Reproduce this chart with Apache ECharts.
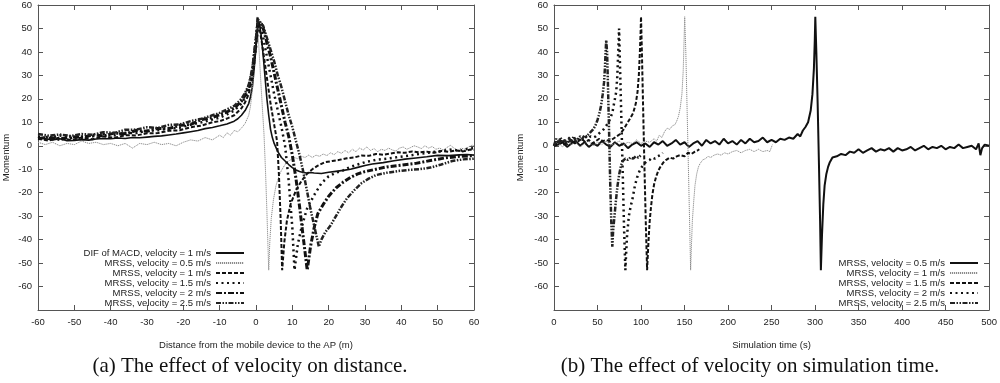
<!DOCTYPE html>
<html>
<head>
<meta charset="utf-8">
<script src="https://cdn.jsdelivr.net/npm/echarts/dist/echarts.min.js"></script>
<style>html,body{margin:0;padding:0;background:#fff}#c{width:1000px;height:383px}</style>
</head>
<body>
<div id="c"></div>
<script>
// ---------- data: panel (a) distance (m) vs momentum ----------
const distDif = [[-60,3.5],[-58,3],[-56,2.5],[-54,3],[-52,2.2],[-50,2.3],[-48,2.6],[-46,2.4],[-44,2.9],[-42,3.1],[-40,3],[-38,3.3],[-36,3.1],[-34,3.5],[-32,3.4],[-30,3.7],[-28,4],[-26,4.2],[-24,4.6],[-22,5],[-20,5.5],[-18,6],[-16,6.5],[-14,7.3],[-12,7.8],[-10,8.5],[-8,9.3],[-6,10.5],[-5,11.5],[-4,13],[-3,15],[-2,18],[-1.5,21],[-1,25],[-0.5,33],[0,42],[0.5,51],[0.9,53],[1.5,46],[2,38],[2.5,29],[3,20],[3.5,13],[4,7],[4.5,3.5],[5,1],[6,-2.5],[7,-5],[8,-6.5],[9,-8],[10,-9.3],[11,-10.3],[12,-11],[13,-11.4],[14,-11.6],[15,-11.4],[16,-11.6],[18,-11.8],[20,-11.3],[22,-10.9],[24,-10.5],[26,-10],[28,-9.2],[30,-8.4],[32,-7.8],[35,-7.2],[38,-6.4],[41,-5.7],[44,-5.2],[47,-4.7],[50,-4.1],[53,-4.2],[56,-3.9],[58,-3.7],[60,-4]];
const distV05 = [[-60,1.5],[-58,0.5],[-56,1.5],[-54,0],[-52,1],[-50,0.5],[-48,2],[-46,1],[-44,1.5],[-42,0.5],[-40,1],[-38,0],[-36,1],[-34,-1],[-32,1],[-30,0.5],[-28,1.5],[-26,0.5],[-24,1],[-22,0],[-20,1.5],[-18,2.5],[-16,2],[-14,3.5],[-12,2.5],[-10,4.5],[-9,3.5],[-8,5.5],[-7,4.5],[-6,6.5],[-5,6],[-4,7.5],[-3,9.5],[-2,13],[-1.5,17],[-1,24],[-0.5,35],[0,47],[0.3,55],[0.8,42],[1.3,28],[1.8,15],[2.2,5],[2.6,-10],[3,-28],[3.3,-43],[3.5,-53],[3.8,-41],[4.2,-31],[4.8,-23],[5.5,-17],[6.3,-13],[7,-10.5],[7.8,-8.5],[8.5,-7],[9.5,-6],[10.5,-5],[11.5,-5.5],[12.5,-4.5],[13.5,-5],[14.5,-4],[15.5,-5],[16.5,-4],[17.5,-4.5],[18.5,-3.5],[19.5,-4.2],[20.5,-3],[21.5,-3.8],[22.5,-2.5],[23.5,-3.2],[24.5,-2],[25.5,-3],[26.5,-1.5],[27.5,-2.5],[28.5,-1],[29.5,-1.8],[30.5,-0.5],[31.5,-2],[32.5,-1.2],[33.5,-2.5],[34.5,-1.5],[35.5,-2],[36.5,-1],[37.5,-1.8],[38.5,-2.2],[39.5,-1],[40.5,-0.5],[41.5,-1.5],[42.5,-0.8],[43.5,0],[44.5,-0.5],[45.5,-1.2],[46.5,0],[47.5,-1],[48.5,-0.3],[49.5,-1.5],[50.5,-1],[51.5,-1.8],[52.5,-0.8],[53.5,0.2],[54.5,-1],[55.5,-2],[56.5,-1],[57.5,-1.5],[58.5,-0.5],[59.5,0.3],[60,0]];
const distV1 = [[-60,3],[-57,2.2],[-54,3.6],[-51,2.4],[-48,3.5],[-45,2.8],[-42,4],[-39,3.4],[-36,4.5],[-33,4.4],[-30,5.3],[-27,5.4],[-24,6.4],[-21,6.6],[-18,7.9],[-15,8.6],[-12,10],[-10,10.5],[-8,11.6],[-6,13],[-4,16],[-3,18.5],[-2,22],[-1,29],[-0.5,35],[0,43],[0.4,55],[1,50],[1.5,45],[2,40],[3,29],[4,18],[5,9],[5.8,2],[6.3,-12],[6.8,-32],[7.2,-53],[7.8,-41],[8.5,-32],[9.5,-25],[11,-19],[12.5,-15],[14,-12],[15.5,-10],[17,-8.5],[19,-7],[21,-6.5],[23,-6],[25,-5.3],[27,-5],[29,-4.2],[31,-4.3],[33,-3.5],[35,-3.8],[37,-3.3],[39,-2.8],[41,-3],[43,-2.4],[45,-2.8],[47,-2.5],[49,-3],[51,-2.2],[53,-2.6],[55,-2],[57,-2.4],[59,-1.6],[60,-1.8]];
const distV15 = [[-60,4],[-57,3.2],[-54,4.4],[-51,3.3],[-48,4],[-45,4],[-42,5],[-39,4.5],[-36,5.5],[-33,5.4],[-30,6.4],[-27,6.6],[-24,7.4],[-21,7.7],[-18,9],[-15,10],[-12,11.2],[-10,12],[-8,13.4],[-6,15],[-4,18],[-3,20.5],[-2,24],[-1,30],[0,42],[0.5,50],[1,52],[2,46],[3,38],[4,30],[5,22],[6,15],[7,8],[8,0],[9,-15],[10,-35],[10.6,-53],[11.5,-42],[12.5,-35],[14,-27],[16,-21],[18,-16],[20,-13],[22,-11.5],[24,-10.5],[26,-9],[28,-8],[30,-7],[33,-6],[36,-5.5],[39,-4.8],[42,-4.2],[45,-3.5],[48,-2.8],[51,-2.3],[54,-1.5],[56,-2.2],[58,-1.4],[60,-1]];
const distV2 = [[-60,3],[-57,3.8],[-54,2.6],[-51,3.9],[-48,3.5],[-45,4.6],[-42,4.2],[-39,5.4],[-36,5.1],[-33,6.5],[-30,6.2],[-27,7.4],[-24,7.3],[-21,8.7],[-18,9.1],[-15,11.2],[-12,12],[-10,13.3],[-8,14.4],[-6,16],[-4,19],[-3,21.5],[-2,25],[-1,32],[0,45],[0.5,52],[1.5,52],[2,50],[3,44],[4,38],[5,31],[6,24],[7,17],[8,10],[9,4],[10,-4],[11,-14],[12,-26],[13,-39],[14.1,-53],[15,-43],[16,-35],[17,-29],[18.5,-25],[20,-21.5],[22,-18],[24,-15.5],[26,-13.5],[28,-12],[30,-11],[33,-10],[36,-9],[40,-8.3],[44,-7.5],[48,-6.3],[52,-5.2],[56,-4.5],[60,-4.2]];
const distV25 = [[-60,5],[-57,4.3],[-54,4.8],[-51,4.2],[-48,5],[-45,4.7],[-42,5.8],[-39,5.5],[-36,6.8],[-33,6.9],[-30,7.9],[-27,7.6],[-24,8.9],[-21,9.1],[-18,10.5],[-15,11.5],[-12,13],[-10,14],[-8,15.5],[-6,17],[-4,20],[-3,22.5],[-2,26],[-1,33],[0,46],[0.5,54],[1.5,52],[2,51],[3,46],[4,41],[5,36],[6,30],[7,25],[8,19],[9,13],[10,8],[11,2],[12,-4],[13,-11],[14,-19],[15,-27],[16,-34],[17.3,-43],[18,-40],[19,-37],[20.5,-34],[22,-30],[23.5,-26],[25,-22.5],[27,-19],[29,-16],[31,-14],[33,-12.5],[36,-11.5],[39,-10.8],[42,-10.3],[45,-10],[48,-9.3],[51,-8],[54,-6.5],[57,-5.8],[60,-5.5]];

// ---------- data: panel (b) simulation time (s) vs momentum ----------
const timeV05 = [[0,0],[5,0.5],[10,1.5],[15,-0.5],[20,1],[25,2],[30,0],[35,1.5],[40,-0.5],[45,1],[50,0],[55,2],[60,0.5],[65,-0.5],[70,1.5],[75,0],[80,1],[85,-1],[90,0.5],[95,1.5],[100,0],[105,1],[110,-0.5],[115,1.5],[120,0.5],[125,2],[130,0],[135,1],[140,2.5],[145,0.5],[150,1.5],[155,-0.5],[160,1],[165,2],[170,0],[175,2.5],[180,1],[185,2],[190,0.5],[195,3],[200,1],[205,2],[210,0.5],[215,2.5],[220,1],[225,3],[230,1.5],[235,2],[240,3.5],[245,1.5],[250,2.5],[255,1.5],[260,3],[265,2.5],[270,3.5],[275,3],[280,5],[283,4],[286,6.5],[289,8],[292,10],[295,15],[297,22],[298.7,33],[299.7,45],[300.3,55],[301.5,40],[303,18],[304.5,-8],[305.8,-32],[306.7,-53],[308,-38],[309.5,-25],[311,-17],[313,-12],[315,-9],[317,-7],[320,-5],[325,-4.5],[330,-3.5],[335,-4],[340,-2.5],[345,-3],[350,-1.5],[355,-3],[360,-2],[365,-1],[370,-2.5],[375,-1.5],[380,-2],[385,-1],[390,-2.5],[395,-1],[400,-2],[405,-1.5],[410,-0.5],[415,-2],[420,-1],[425,0],[430,-1.5],[435,-0.5],[440,-1],[445,0],[450,-1.5],[455,-0.5],[460,-1],[465,0.5],[470,-1],[475,-0.5],[480,0],[485,-1.5],[488,1],[490,-4],[492,-1],[495,0.5],[500,0]];
const timeV1 = [[0,0],[5,1],[10,-0.5],[15,2],[20,0.5],[25,1.5],[30,-0.5],[35,1],[40,2],[45,0],[50,1.5],[55,0.5],[60,2],[65,0],[70,1],[75,2],[80,0.5],[85,1.5],[90,1],[95,2.5],[100,1],[105,2],[110,1.5],[115,3],[118,2],[121,4.5],[124,3.5],[127,6],[130,7.5],[133,7],[136,8.5],[139,9],[141,10.5],[143,12.5],[145,16],[147,22],[148.5,32],[149.5,45],[150.2,55],[151.5,40],[153,15],[154.5,-10],[156,-35],[157,-53],[158,-42],[159,-32],[160.5,-24],[162,-17],[164,-12],[166,-9],[168,-7.5],[171,-6],[174,-5.5],[177,-4.5],[180,-5],[184,-4],[188,-3.5],[192,-4],[196,-3],[200,-3.5],[205,-2.5],[210,-2],[215,-3],[220,-2],[225,-1.5],[230,-2.5],[235,-1.5],[240,-2.5],[245,-2],[248,-2.5],[250,-0.5],[251,0.5]];
const timeV15 = [[0,0],[4,1],[8,2],[12,0.5],[16,1.5],[20,2.5],[24,1],[28,2],[32,3],[36,1.5],[40,2.5],[44,1],[48,2],[52,3],[56,2],[60,2.5],[64,2],[68,3],[72,4],[76,5],[80,7],[84,9.5],[88,12],[91,14],[94,18],[96,23],[97.5,30],[98.7,40],[99.5,48],[100,55],[101,40],[102.5,15],[104,-10],[105.5,-33],[107,-53],[108,-45],[109,-38],[110,-32],[111.5,-26],[113,-21],[115,-16.5],[117.5,-13],[120,-10.5],[123,-8.5],[126,-7],[129,-6],[133,-5],[137,-5.5],[141,-4.5],[145,-4],[150,-4.5],[154,-3],[158,-3.5],[162,-2.5],[165,-2],[167,-1.5]];
const timeV2 = [[0,0],[3,2],[6,1],[9,3],[12,0.5],[15,2],[18,3.5],[21,1.5],[24,3],[27,2],[30,3.5],[33,2.5],[36,4],[39,3],[42,4],[45,3.5],[48,4],[51,5],[54,6],[57,7],[60,8.5],[64,11],[67,14],[69.5,19],[71.5,23],[72.8,30],[73.8,40],[74.8,50],[76,32],[77.5,10],[79,-12],[80.5,-35],[82,-53],[83,-45],[84,-38],[86,-30],[88,-26],[90,-23],[93,-17],[95.5,-13.5],[98,-11],[101,-9],[104,-7.5],[107,-6.5],[110,-6],[113,-5],[116,-5.5],[119,-4.5],[122,-4],[125,-3]];
const timeV25 = [[0,0],[2.5,3],[5,1],[7.5,3.5],[10,1.5],[12.5,2.5],[15,0.5],[17.5,3],[20,1.5],[22.5,4],[25,2],[27.5,3],[30,4],[32.5,3],[35,4.5],[37.5,4],[40,5],[42.5,6],[45,7],[47.5,8.5],[50,11],[52,13.5],[54,17],[56,22],[57.5,27],[58.5,33],[59.3,40],[60,45],[61,40],[62,26],[63.3,6],[64.6,-16],[65.8,-32],[67,-43],[68,-36],[69.5,-30],[71,-24],[73,-17],[75,-12],[77,-8.5],[79,-6.5],[82,-5.5],[85,-6],[88,-5],[91,-5.5],[94,-4.5],[97,-5],[100,-4]];

// ---------- labels ----------
const namesLeft = ['DIF of MACD, velocity = 1 m/s','MRSS, velocity = 0.5 m/s','MRSS, velocity = 1 m/s','MRSS, velocity = 1.5 m/s','MRSS, velocity = 2 m/s','MRSS, velocity = 2.5 m/s'];
const namesRight = ['MRSS, velocity = 0.5 m/s','MRSS, velocity = 1 m/s','MRSS, velocity = 1.5 m/s','MRSS, velocity = 2 m/s','MRSS, velocity = 2.5 m/s'];
const xNameLeft = 'Distance from the mobile device to the AP (m)';
const xNameRight = 'Simulation time (s)';
const yName = 'Momentum';
const captionLeft = '(a) The effect of velocity on distance.';
const captionRight = '(b) The effect of velocity on simulation time.';

// ---------- styles ----------
const FONT = '"Liberation Sans", Arial, sans-serif';
const ST = {
  solid:   {color:'#111', width:1.6, type:'solid'},
  solidB:  {color:'#111', width:2, type:'solid'},
  gray:    {color:'#8c8c8c', width:1, type:[1.2,0.8]},
  dashed:  {color:'#111', width:2, type:[4,2]},
  sparse:  {color:'#111', width:2.5, type:[2,3.5]},
  dashdot: {color:'#111', width:3, type:[6,2,2,2]},
  dashdd:  {color:'#222', width:2.5, type:[5,1.5,1.5,1.5,1.5,1.5]}
};

function line(name, data, idx, st) {
  return {type:'line', name:name, data:data, xAxisIndex:idx, yAxisIndex:idx,
    symbol:'none', showSymbol:false, lineStyle:st, itemStyle:{color:st.color}, silent:true, animation:false, z:2};
}
function xAx(grid, min, max, interval, pos, name) {
  return {type:'value', gridIndex:grid, min:min, max:max, interval:interval, position:pos,
    axisLine:{show:true, onZero:false, lineStyle:{color:'#555', width:1}},
    axisTick:{show:true, inside:true, length:5, lineStyle:{color:'#555'}},
    axisLabel:{show:pos==='bottom', color:'#222', fontFamily:FONT, fontSize:9.5, margin:7},
    splitLine:{show:false},
    name: pos==='bottom' ? name : '', nameLocation:'middle', nameGap:30,
    nameTextStyle:{color:'#222', fontFamily:FONT, fontSize:9.5}};
}
function yAx(grid, pos, gap) {
  return {type:'value', gridIndex:grid, min:-70, max:60, interval:10, position:pos,
    axisLine:{show:true, onZero:false, lineStyle:{color:'#555', width:1}},
    axisTick:{show:true, inside:true, length:5, lineStyle:{color:'#555'}},
    axisLabel:{show:pos==='left', color:'#222', fontFamily:FONT, fontSize:9.5, margin:6,
      formatter: v => v === -70 ? '' : String(v)},
    splitLine:{show:false},
    name: pos==='left' ? yName : '', nameLocation:'middle', nameGap:gap, nameRotate:90,
    nameTextStyle:{color:'#222', fontFamily:FONT, fontSize:9.5}};
}
const legendText = n => n.split('|')[1];
function legend(names, prefix, right, top) {
  return {orient:'vertical', align:'right', right:right, top:top, padding:0,
    itemWidth:28, itemHeight:8, itemGap:0, selectedMode:false,
    itemStyle:{color:'rgba(0,0,0,0)', borderWidth:0, opacity:0},
    data: names.map(n => prefix + '|' + n), formatter: legendText,
    textStyle:{color:'#222', fontFamily:FONT, fontSize:9.5, lineHeight:9.8}};
}

const option = {
  backgroundColor:'#fff',
  animation:false,
  grid:[
    {left:37, right:526, top:4, bottom:73, containLabel:false},
    {left:554, right:9, top:4, bottom:73, containLabel:false}
  ],
  xAxis:[
    xAx(0,-60,60,10,'bottom',xNameLeft), xAx(0,-60,60,10,'top',''),
    xAx(1,0,500,50,'bottom',xNameRight), xAx(1,0,500,50,'top','')
  ],
  yAxis:[
    yAx(0,'left',27), yAx(0,'right',0),
    yAx(1,'left',29), yAx(1,'right',0)
  ],
  legend:[ legend(namesLeft,'a',755,248), legend(namesRight,'b',21,258) ],
  series:[
    line('a|'+namesLeft[0], distDif, 0, ST.solid),
    line('a|'+namesLeft[1], distV05, 0, ST.gray),
    line('a|'+namesLeft[2], distV1, 0, ST.dashed),
    line('a|'+namesLeft[3], distV15, 0, ST.sparse),
    line('a|'+namesLeft[4], distV2, 0, ST.dashdot),
    line('a|'+namesLeft[5], distV25, 0, ST.dashdd),
    line('b|'+namesRight[0], timeV05, 2, ST.solidB),
    line('b|'+namesRight[1], timeV1, 2, ST.gray),
    line('b|'+namesRight[2], timeV15, 2, ST.dashed),
    line('b|'+namesRight[3], timeV2, 2, ST.sparse),
    line('b|'+namesRight[4], timeV25, 2, ST.dashdd)
  ],
  graphic:[
    {type:'text', style:{text:captionLeft, x:250, y:366, align:'center', verticalAlign:'middle', font:'21px "Liberation Serif", "Times New Roman", serif', fill:'#111'}},
    {type:'text', style:{text:captionRight, x:750, y:366, align:'center', verticalAlign:'middle', font:'21px "Liberation Serif", "Times New Roman", serif', fill:'#111'}}
  ]
};
const chart = echarts.init(document.getElementById('c'));
chart.setOption(option);
</script>
</body>
</html>
